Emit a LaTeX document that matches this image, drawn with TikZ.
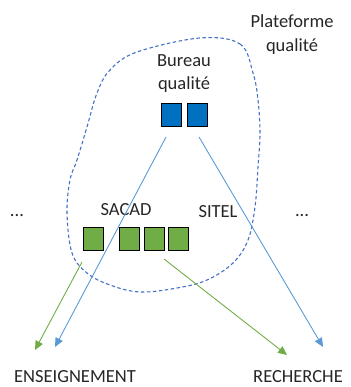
\documentclass[tikz,border=0pt]{standalone}
\usepackage{fontspec}
\setmainfont{Carlito}
\usetikzlibrary{arrows.meta}
\definecolor{sqblue}{HTML}{0070C0}
\definecolor{sqgreen}{HTML}{70AD47}
\definecolor{lnblue}{HTML}{5B9BD5}
\definecolor{blob}{HTML}{4472C4}
\tikzset{
  sq/.style={draw=black, line width=0.9pt, minimum width=20pt, minimum height=23pt, inner sep=0pt, anchor=north west},
  bsq/.style={sq, fill=sqblue},
  gsq/.style={sq, fill=sqgreen},
  lbl/.style={font=\fontsize{18.5}{22}\selectfont, text=black!85, inner sep=0pt, anchor=base},
  barrow/.style={draw=lnblue, line width=0.9pt, -{Triangle[length=9pt,width=8pt]}},
  garrow/.style={draw=sqgreen, line width=0.9pt, -{Triangle[length=9pt,width=8pt]}},
}
\begin{document}
\begin{tikzpicture}[x=1pt,y=-1pt]
\useasboundingbox (0,0) rectangle (350,387);
% dashed platform outline
\draw[blob, line width=1.1pt, dash pattern=on 3.5pt off 2.5pt]
  plot[smooth cycle, tension=0.6] coordinates {(200,38) (240,44) (253,73) (258,100) (260,133) (258,167) (255,207) (248,240) (233,263) (207,280) (177,288) (140,292) (110,285) (87,273) (72,253) (67,213) (70,180) (77,160) (87,127) (97,93) (110,70) (137,52)};
% labels
\node[lbl] (plat1) at (292,28) {Plateforme};
\node[lbl] (plat2) at (292,52) {qualité};
\node[lbl] (bur1) at (184,67) {Bureau};
\node[lbl] (bur2) at (184,90) {qualité};
\node[lbl] (sacad) at (126,215) {SACAD};
\node[lbl] (sitel) at (218,217) {SITEL};
\node[lbl] (dl) at (17,216) {...};
\node[lbl] (dr) at (302,216) {...};
\node[lbl] (ens) at (75,382) {ENSEIGNEMENT};
\node[lbl] (rec) at (298,382) {RECHERCHE};
% squares
\node[bsq] (b1) at (161,103) {};
\node[bsq] (b2) at (187,103) {};
\node[gsq] (g1) at (83,227) {};
\node[gsq] (g2) at (119,227) {};
\node[gsq] (g3) at (143.5,227) {};
\node[gsq] (g4) at (168,227) {};
% arrow endpoints
\coordinate (bs1) at (166,137);
\coordinate (bs2) at (199,137);
\coordinate (be1) at (55,347);
\coordinate (be2) at (323,347);
\coordinate (gs1) at (82,262);
\coordinate (gs2) at (164,259);
\coordinate (ge1) at (35,350);
\coordinate (ge2) at (287,355);
\draw[barrow] (bs1) -- (be1);
\draw[barrow] (bs2) -- (be2);
\draw[garrow] (gs1) -- (ge1);
\draw[garrow] (gs2) -- (ge2);
\end{tikzpicture}
\end{document}
